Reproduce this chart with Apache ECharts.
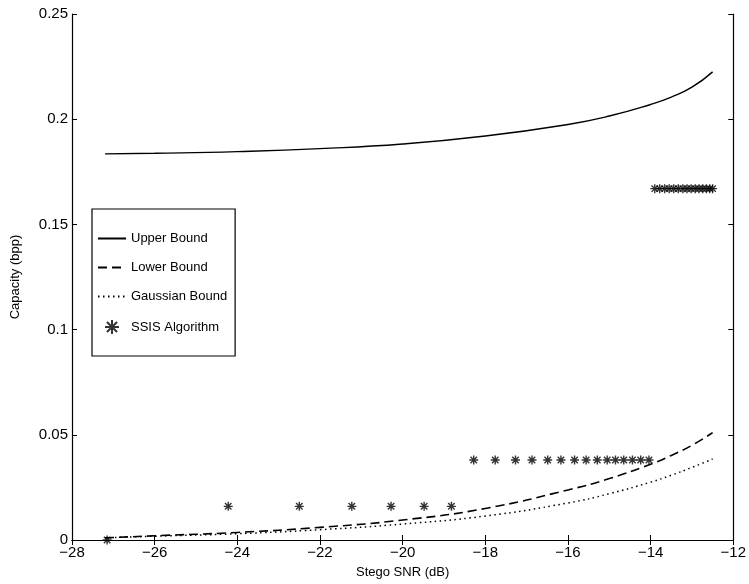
<!DOCTYPE html>
<html>
<head>
<meta charset="utf-8">
<script src="https://cdn.jsdelivr.net/npm/echarts@6/dist/echarts.min.js"></script>
<style>
  html, body { margin: 0; padding: 0; background: #fff; }
  #chart { width: 749px; height: 584px; }
</style>
</head>
<body>
<div id="chart"></div>
<script>
// Stego SNR grid (dB) on which the three capacity bounds are evaluated
const snrGrid = [-27.2, -26, -24, -22, -20, -18, -16, -15, -14, -13.5, -13, -12.5];
const upperBound = [0.1835, 0.1838, 0.1846, 0.1860, 0.1882, 0.1920, 0.1975, 0.2015, 0.2070, 0.2105, 0.2152, 0.2225];
const lowerBound = [0.0010, 0.0020, 0.0036, 0.0060, 0.0095, 0.0150, 0.0238, 0.0292, 0.0360, 0.0402, 0.0450, 0.0510];
const gaussianBound = [0.0010, 0.0018, 0.0030, 0.0049, 0.0076, 0.0114, 0.0176, 0.0220, 0.0275, 0.0308, 0.0345, 0.0385];

// SSIS algorithm operating points
const ssisSnr = [
  -27.15, -24.22, -22.50, -21.23, -20.28, -19.48, -18.82,
  -18.28, -17.76, -17.27, -16.87, -16.49, -16.17, -15.84, -15.56, -15.29, -15.05, -14.85, -14.65, -14.44, -14.24, -14.04,
  -13.90, -13.78, -13.66, -13.55, -13.44, -13.33, -13.22, -13.12, -13.02, -12.92, -12.83, -12.74, -12.65, -12.57, -12.50
];
const ssisCapacity = [
  0.000, 0.016, 0.016, 0.016, 0.016, 0.016, 0.016,
  0.038, 0.038, 0.038, 0.038, 0.038, 0.038, 0.038, 0.038, 0.038, 0.038, 0.038, 0.038, 0.038, 0.038, 0.038,
  0.167, 0.167, 0.167, 0.167, 0.167, 0.167, 0.167, 0.167, 0.167, 0.167, 0.167, 0.167, 0.167, 0.167, 0.167
];

const xTicks = { min: -28, max: -12, interval: 2 };
const yTicks = { min: 0, max: 0.25, interval: 0.05 };

const pair = (xs, ys) => xs.map((x, i) => [x, ys[i]]);

const asterisk = 'path://M5 0L5 10M0 5L10 5M1.4 1.4L8.6 8.6M8.6 1.4L1.4 8.6';
const FONT = '"Liberation Sans", Arial, Helvetica, sans-serif';

const chart = echarts.init(document.getElementById('chart'), null, { renderer: 'canvas' });

const axisLine = { show: true, lineStyle: { color: '#000', width: 1.2 } };
const tickIn = { show: true, inside: true, length: 5, lineStyle: { color: '#000', width: 1 } };
const noMarker = { opacity: 0 };

chart.setOption({
  animation: false,
  backgroundColor: '#fff',
  grid: { left: 72, right: 12, top: 14, bottom: 43 },
  legend: {
    orient: 'vertical',
    left: 92,
    top: 209,
    padding: [23, 8, 21, 5],
    itemGap: 16,
    itemWidth: 28,
    itemHeight: 14,
    borderColor: '#000',
    borderWidth: 1.2,
    backgroundColor: '#fff',
    textStyle: { fontFamily: FONT, fontSize: 13, color: '#000' },
    data: [
      { name: 'Upper Bound', itemStyle: noMarker },
      { name: 'Lower Bound', itemStyle: noMarker },
      { name: 'Gaussian Bound', itemStyle: noMarker },
      { name: 'SSIS Algorithm' }
    ]
  },
  xAxis: [
    {
      type: 'value', position: 'bottom',
      min: xTicks.min, max: xTicks.max, interval: xTicks.interval,
      name: 'Stego SNR (dB)', nameLocation: 'middle', nameGap: 26,
      nameTextStyle: { fontFamily: FONT, fontSize: 13, color: '#000' },
      axisLine, axisTick: tickIn,
      axisLabel: { fontFamily: FONT, fontSize: 15, color: '#000', margin: 5,
        formatter: v => String(v).replace('-', '\u2212') },
      splitLine: { show: false }
    },
    {
      type: 'value', position: 'top',
      min: xTicks.min, max: xTicks.max, interval: xTicks.interval,
      axisLine, axisTick: tickIn, axisLabel: { show: false }, splitLine: { show: false }
    }
  ],
  yAxis: [
    {
      type: 'value', position: 'left',
      min: yTicks.min, max: yTicks.max, interval: yTicks.interval,
      name: 'Capacity (bpp)', nameLocation: 'middle', nameGap: 50,
      nameTextStyle: { fontFamily: FONT, fontSize: 13, color: '#000' },
      axisLine, axisTick: tickIn,
      axisLabel: { fontFamily: FONT, fontSize: 15, color: '#000', margin: 4,
        formatter: v => (v === 0 ? '0' : String(Math.round(v * 100) / 100)) },
      splitLine: { show: false }
    },
    {
      type: 'value', position: 'right',
      min: yTicks.min, max: yTicks.max, interval: yTicks.interval,
      axisLine, axisTick: tickIn, axisLabel: { show: false }, splitLine: { show: false }
    }
  ],
  series: [
    {
      name: 'Upper Bound', type: 'line', smooth: true, symbol: 'none',
      data: pair(snrGrid, upperBound),
      lineStyle: { color: '#000', width: 1.4, type: 'solid' },
      itemStyle: { color: '#000' }
    },
    {
      name: 'Lower Bound', type: 'line', smooth: true, symbol: 'none',
      data: pair(snrGrid, lowerBound),
      lineStyle: { color: '#000', width: 1.6, type: [9, 5] },
      itemStyle: { color: '#000' }
    },
    {
      name: 'Gaussian Bound', type: 'line', smooth: true, symbol: 'none',
      data: pair(snrGrid, gaussianBound),
      lineStyle: { color: '#000', width: 1.5, type: [1.5, 3.5] },
      itemStyle: { color: '#000' }
    },
    {
      name: 'SSIS Algorithm', type: 'scatter',
      symbol: asterisk, symbolSize: 9,
      data: pair(ssisSnr, ssisCapacity),
      itemStyle: { color: 'rgba(0,0,0,0)', borderColor: '#000', borderWidth: 1.4 }
    }
  ]
});
</script>
</body>
</html>
